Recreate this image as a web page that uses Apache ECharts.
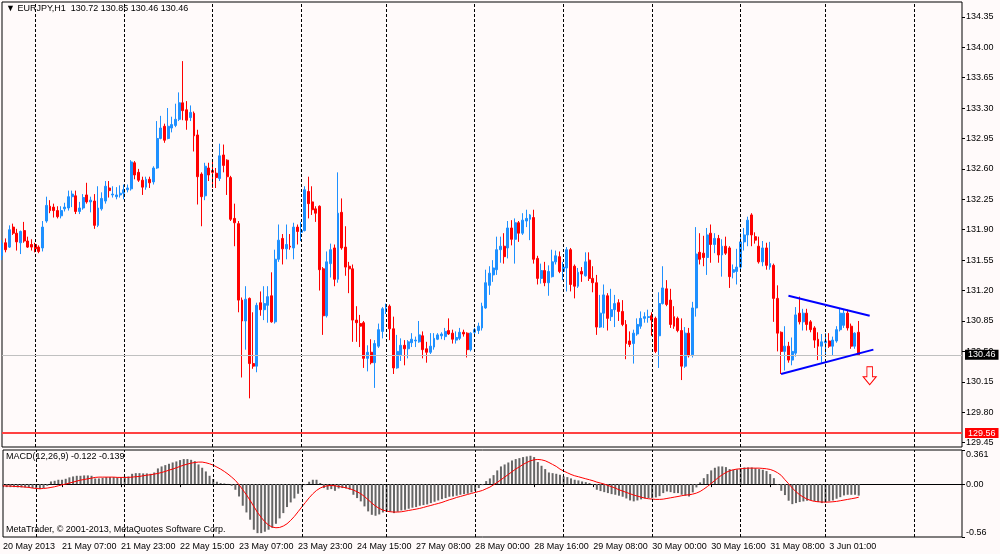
<!DOCTYPE html>
<html><head><meta charset="utf-8">
<script src="https://cdn.jsdelivr.net/npm/echarts@6/dist/echarts.min.js"></script>
<style>html,body{margin:0;padding:0;background:#FFFAFA}#c{width:1000px;height:554px}</style>
</head><body><div id="c"></div>
<script>
const symbolName = 'EURJPY,H1';
const open = [
131.60,131.75,131.70,131.93,131.86,131.75,131.89,131.77,131.73,131.73,
131.70,131.69,132.00,132.17,132.16,132.12,132.06,132.14,132.15,132.28,
132.29,132.11,132.15,132.30,132.22,132.23,131.95,132.14,132.23,132.38,
132.30,132.28,132.30,132.32,132.36,132.37,132.67,132.56,132.47,132.39,
132.48,132.45,132.61,132.95,133.09,132.95,133.07,133.10,133.17,133.36,
133.28,133.19,133.24,132.99,132.54,132.29,132.61,132.58,132.55,132.49,
132.76,132.70,132.50,132.03,131.97,131.09,130.85,131.11,130.36,130.33,
131.06,130.98,131.03,131.14,130.84,131.56,131.80,131.68,131.71,131.69,
131.93,131.87,131.89,132.34,132.22,132.14,132.17,131.45,130.91,131.51,
131.69,131.33,132.10,131.70,131.48,131.45,130.86,130.82,130.83,130.42,
130.49,130.37,130.56,130.73,130.96,131.02,130.76,130.31,130.46,130.57,
130.53,130.60,130.62,130.61,130.68,130.53,130.49,130.55,130.64,130.68,
130.67,130.74,130.71,130.63,130.65,130.72,130.71,130.52,130.72,130.74,
130.77,131.00,131.26,131.38,131.44,131.67,131.71,131.69,131.92,131.79,
131.98,131.86,132.00,132.02,132.04,131.57,131.34,131.43,131.29,131.36,
131.53,131.59,131.42,131.46,131.67,131.48,131.25,131.42,131.37,131.55,
131.34,131.29,130.78,130.94,131.14,130.90,130.98,131.06,130.96,130.81,
130.62,130.59,130.70,130.79,130.88,130.89,130.91,130.88,130.68,131.05,
131.22,131.09,130.90,130.88,130.74,130.33,130.71,130.46,131.00,131.64,
131.63,131.58,131.86,131.73,131.80,131.61,131.71,131.69,131.41,131.42,
131.47,131.76,131.84,132.07,131.82,131.71,131.53,131.69,131.47,131.49,
131.11,130.72,130.50,130.56,130.40,130.48,130.94,130.84,130.94,130.84,
130.77,130.64,130.56,130.60,130.62,130.56,130.62,130.75,130.80,130.94,
130.79,130.56,130.72];
const high = [
131.78,131.80,131.95,131.97,131.91,131.89,131.99,131.82,131.79,131.75,
131.72,132.00,132.28,132.24,132.20,132.17,132.17,132.21,132.35,132.35,
132.35,132.22,132.31,132.44,132.28,132.31,132.40,132.33,132.46,132.46,
132.40,132.39,132.41,132.42,132.42,132.70,132.69,132.60,132.51,132.51,
132.51,132.63,133.15,133.21,133.12,133.30,133.20,133.35,133.48,133.84,
133.38,133.33,133.26,133.05,132.56,132.67,132.67,132.70,132.61,132.89,
132.88,132.71,132.52,132.20,132.00,131.12,131.25,131.12,130.95,131.06,
131.19,131.25,131.25,131.41,131.67,131.96,131.85,131.96,131.85,131.98,
131.96,131.99,132.40,132.51,132.40,132.17,132.18,131.47,131.65,131.74,
131.73,132.56,132.26,131.94,131.53,131.50,131.02,130.92,130.85,130.57,
130.64,130.63,130.82,131.01,131.05,131.04,130.90,130.69,130.65,130.63,
130.63,130.71,130.67,130.85,130.73,130.61,130.71,130.71,130.71,130.72,
130.77,130.88,130.75,130.73,130.77,130.75,130.72,130.72,130.77,130.83,
131.06,131.44,131.48,131.55,131.82,131.82,131.86,132.00,132.01,132.03,
132.00,132.09,132.13,132.08,132.13,131.60,131.51,131.53,131.49,131.67,
131.66,131.65,131.53,131.70,131.69,131.50,131.46,131.47,131.64,131.64,
131.48,131.38,131.15,131.27,131.17,131.22,131.15,131.10,131.09,130.86,
130.73,130.75,130.88,130.96,130.95,130.98,130.95,130.90,131.18,131.48,
131.32,131.22,131.02,130.90,130.88,130.78,130.77,131.07,131.93,131.86,
131.83,131.92,131.96,131.86,131.84,131.79,131.82,131.71,131.50,131.68,
131.86,131.92,132.05,132.09,131.87,131.82,131.77,131.75,131.76,131.51,
131.26,130.73,130.79,130.61,130.66,131.01,131.13,130.99,130.99,130.86,
130.79,130.72,130.70,130.71,130.71,130.67,130.79,131.00,130.98,130.98,
130.82,130.72,130.85];
const low = [
131.55,131.64,131.69,131.84,131.66,131.62,131.75,131.69,131.66,131.64,
131.63,131.65,131.98,132.09,132.04,132.03,132.03,132.11,132.12,132.16,
132.08,132.08,132.13,132.20,132.10,131.91,131.93,132.12,132.20,132.27,
132.27,132.25,132.27,132.25,132.33,132.35,132.48,132.45,132.30,132.36,
132.38,132.42,132.60,132.94,132.90,132.94,133.02,133.08,133.15,133.16,
133.05,133.15,132.80,132.19,131.94,132.24,132.46,132.38,132.38,132.46,
132.56,132.30,132.00,131.71,130.95,130.20,130.52,129.96,130.30,130.26,
130.91,130.86,130.83,130.83,130.82,131.53,131.50,131.56,131.67,131.56,
131.73,131.77,131.88,132.03,132.07,131.99,131.20,130.69,130.89,131.35,
131.25,131.29,131.67,131.37,131.17,130.61,130.61,130.55,130.31,130.27,
130.35,130.08,130.54,130.65,130.93,130.63,130.24,130.30,130.39,130.34,
130.42,130.55,130.55,130.60,130.42,130.37,130.47,130.52,130.63,130.64,
130.63,130.69,130.59,130.59,130.63,130.67,130.43,130.50,130.67,130.70,
130.74,130.99,131.15,131.30,131.38,131.52,131.51,131.57,131.72,131.51,
131.76,131.84,131.93,131.78,131.51,131.27,131.28,131.25,131.14,131.35,
131.50,131.40,131.32,131.19,131.19,131.11,131.23,131.30,131.36,131.31,
131.18,130.69,130.77,130.77,130.74,130.85,130.78,130.85,130.79,130.41,
130.55,130.36,130.68,130.76,130.83,130.83,130.68,130.48,130.31,131.04,
131.02,130.77,130.76,130.72,130.17,130.31,130.43,130.43,130.90,131.50,
131.48,131.38,131.52,131.63,131.52,131.36,131.61,131.23,131.34,131.27,
131.44,131.66,131.71,131.71,131.74,131.51,131.48,131.44,131.44,130.84,
130.50,130.24,130.28,130.37,130.34,130.44,130.81,130.74,130.74,130.72,
130.54,130.40,130.37,130.45,130.54,130.45,130.60,130.73,130.77,130.74,
130.53,130.53,130.46];
const close = [
131.74,131.67,131.90,131.86,131.76,131.88,131.77,131.70,131.70,131.68,
131.65,131.93,132.18,132.12,132.12,132.05,132.12,132.16,132.28,132.31,
132.11,132.15,132.27,132.22,132.24,131.95,132.15,132.26,132.40,132.35,
132.31,132.30,132.32,132.36,132.38,132.68,132.53,132.47,132.39,132.48,
132.44,132.61,132.95,133.07,132.93,133.09,133.11,133.17,133.36,133.27,
133.16,133.25,132.98,132.51,132.28,132.63,132.53,132.56,132.50,132.75,
132.64,132.51,132.02,131.98,131.09,130.85,131.10,130.36,130.33,131.03,
130.98,131.05,131.13,130.84,131.56,131.78,131.68,131.73,131.70,131.93,
131.88,131.89,132.36,132.20,132.13,132.09,131.44,130.91,131.53,131.67,
131.33,132.09,131.69,131.47,131.45,130.86,130.83,130.79,130.42,130.49,
130.37,130.59,130.75,130.99,131.00,130.76,130.31,130.50,130.57,130.53,
130.61,130.64,130.63,130.69,130.52,130.49,130.56,130.65,130.69,130.70,
130.73,130.70,130.64,130.66,130.72,130.70,130.52,130.71,130.75,130.79,
131.02,131.29,131.40,131.46,131.67,131.71,131.59,131.92,131.79,131.98,
131.86,132.01,132.03,132.07,131.56,131.34,131.43,131.29,131.42,131.53,
131.60,131.42,131.47,131.67,131.27,131.25,131.41,131.39,131.53,131.34,
131.29,130.78,130.94,131.15,130.88,130.98,131.05,130.96,130.81,130.59,
130.58,130.71,130.81,130.88,130.90,130.90,130.86,130.50,131.05,131.23,
131.04,130.81,130.79,130.74,130.33,130.71,130.45,131.00,131.62,131.56,
131.58,131.84,131.73,131.80,131.61,131.71,131.63,131.36,131.44,131.47,
131.76,131.84,132.01,131.84,131.78,131.53,131.69,131.49,131.51,131.11,
130.71,130.50,130.56,130.40,130.50,130.92,130.84,130.94,130.81,130.75,
130.63,130.56,130.61,130.62,130.56,130.63,130.75,130.94,130.94,130.77,
130.56,130.71,130.46];
const macdMain = [
-0.025,-0.032,-0.032,-0.032,-0.035,-0.035,-0.035,-0.039,-0.042,-0.046,
-0.053,-0.042,-0.018,0.028,0.035,0.046,0.046,0.056,0.071,0.081,
0.088,0.088,0.092,0.092,0.088,0.060,0.060,0.067,0.074,0.074,
0.074,0.071,0.071,0.078,0.081,0.109,0.116,0.116,0.113,0.113,
0.109,0.123,0.166,0.187,0.201,0.215,0.229,0.240,0.254,0.265,
0.265,0.257,0.243,0.208,0.173,0.134,0.088,0.053,0.025,0.011,
0.007,0.002,-0.018,-0.060,-0.131,-0.229,-0.300,-0.377,-0.483,-0.519,
-0.519,-0.504,-0.483,-0.462,-0.420,-0.363,-0.307,-0.243,-0.194,-0.152,
-0.102,-0.060,-0.011,0.025,0.046,0.046,0.011,-0.042,-0.060,-0.053,
-0.071,-0.046,-0.042,-0.046,-0.060,-0.113,-0.148,-0.183,-0.236,-0.289,
-0.325,-0.335,-0.321,-0.300,-0.289,-0.293,-0.307,-0.293,-0.279,-0.272,
-0.261,-0.250,-0.243,-0.229,-0.222,-0.215,-0.201,-0.187,-0.173,-0.159,
-0.148,-0.134,-0.131,-0.123,-0.113,-0.106,-0.102,-0.088,-0.071,-0.042,
-0.011,0.032,0.060,0.095,0.145,0.187,0.208,0.229,0.250,0.265,
0.275,0.286,0.293,0.300,0.286,0.233,0.194,0.159,0.123,0.116,
0.109,0.099,0.081,0.074,0.060,0.046,0.039,0.028,0.021,0.011,
-0.007,-0.060,-0.074,-0.085,-0.095,-0.106,-0.113,-0.123,-0.134,-0.152,
-0.173,-0.183,-0.173,-0.162,-0.152,-0.148,-0.148,-0.141,-0.127,-0.095,
-0.078,-0.085,-0.095,-0.095,-0.113,-0.123,-0.131,-0.088,-0.035,0.018,
0.063,0.106,0.145,0.173,0.187,0.187,0.180,0.159,0.152,0.155,
0.166,0.176,0.176,0.176,0.169,0.159,0.152,0.138,0.106,0.063,
-0.007,-0.071,-0.116,-0.176,-0.212,-0.201,-0.190,-0.183,-0.176,-0.173,
-0.180,-0.190,-0.201,-0.194,-0.183,-0.173,-0.155,-0.138,-0.120,-0.113,
-0.113,-0.113,-0.122];
const macdSignal = [
-0.018,-0.021,-0.021,-0.025,-0.025,-0.028,-0.032,-0.035,-0.042,-0.046,
-0.049,-0.046,-0.042,-0.035,-0.028,-0.018,-0.007,0.000,0.011,0.021,
0.032,0.042,0.049,0.056,0.063,0.071,0.074,0.074,0.074,0.074,
0.074,0.071,0.071,0.071,0.071,0.074,0.078,0.081,0.088,0.095,
0.099,0.106,0.113,0.123,0.134,0.148,0.159,0.173,0.187,0.201,
0.212,0.222,0.229,0.233,0.233,0.226,0.215,0.201,0.180,0.159,
0.134,0.106,0.074,0.039,-0.007,-0.060,-0.113,-0.173,-0.236,-0.300,
-0.353,-0.399,-0.434,-0.455,-0.462,-0.459,-0.444,-0.420,-0.384,-0.342,
-0.293,-0.243,-0.194,-0.145,-0.102,-0.067,-0.042,-0.025,-0.018,-0.014,
-0.018,-0.025,-0.032,-0.039,-0.049,-0.063,-0.081,-0.102,-0.131,-0.166,
-0.201,-0.233,-0.257,-0.275,-0.286,-0.293,-0.296,-0.296,-0.293,-0.286,
-0.279,-0.272,-0.265,-0.257,-0.247,-0.236,-0.226,-0.215,-0.205,-0.194,
-0.180,-0.166,-0.155,-0.141,-0.131,-0.120,-0.109,-0.099,-0.088,-0.078,
-0.067,-0.049,-0.032,-0.007,0.018,0.046,0.074,0.102,0.131,0.159,
0.183,0.208,0.229,0.247,0.257,0.261,0.257,0.247,0.229,0.208,
0.187,0.159,0.138,0.120,0.102,0.088,0.078,0.067,0.056,0.046,
0.035,0.021,0.011,0.000,-0.014,-0.028,-0.042,-0.060,-0.074,-0.088,
-0.102,-0.116,-0.127,-0.138,-0.148,-0.155,-0.159,-0.162,-0.162,-0.159,
-0.152,-0.145,-0.138,-0.131,-0.123,-0.116,-0.113,-0.106,-0.095,-0.078,
-0.053,-0.025,0.007,0.039,0.071,0.099,0.123,0.141,0.152,0.159,
0.162,0.166,0.169,0.169,0.169,0.169,0.166,0.162,0.155,0.141,
0.120,0.092,0.046,0.004,-0.042,-0.081,-0.113,-0.138,-0.159,-0.173,
-0.183,-0.187,-0.190,-0.190,-0.190,-0.187,-0.183,-0.176,-0.169,-0.162,
-0.155,-0.148,-0.139];
const timeLabels = ['20 May 2013','21 May 07:00','21 May 23:00','22 May 15:00','23 May 07:00','23 May 23:00','24 May 15:00','27 May 08:00','28 May 00:00','28 May 16:00','29 May 08:00','30 May 00:00','30 May 16:00','31 May 08:00','3 Jun 01:00'];
const labelStep = 16;
const daySeparators = [9,33,57,81,104,128,152,176,200,223,247];
const priceTicks = [129.45,129.80,130.15,130.50,130.85,131.20,131.55,131.90,132.25,132.60,132.95,133.30,133.65,134.00,134.35];
const macdTicks = [-0.56,0,0.361];
const bidPrice = 130.46;
const alertPrice = 129.56;
const trendLines = [[[213,131.14],[235,130.91]],[[211,130.24],[236,130.52]]];
const signalArrow = [234.5,130.22];
const totalSlots = 261;

const FONT = '"Liberation Sans", Arial, "DejaVu Sans", sans-serif';
const cats = Array.from({length: totalSlots}, (_, i) => String(i));
const candles = open.map((o, i) => [o, close[i], low[i], high[i]]);
const last = open.length - 1;
const isLabel = i => i % labelStep === 0 && (i / labelStep) < timeLabels.length;
const sepData = daySeparators.map(x => ({xAxis: x}));
const sepLine = {symbol: ['none','none'], silent: true, animation: false,
  lineStyle: {type: [3,2], color: '#000', width: 1}, label: {show: false}};
const txt = (s, top) => ({text: s, left: 6, top: top, padding: 0,
  textStyle: {fontSize: 9, fontWeight: 'normal', color: '#000', fontFamily: FONT}});

const chart = echarts.init(document.getElementById('c'));
chart.setOption({
  animation: false,
  backgroundColor: '#FFFAFA',
  textStyle: {fontFamily: FONT},
  title: [
    txt('\u25BC ' + symbolName + '  ' + [open[last], high[last], low[last], close[last]].map(v => v.toFixed(2)).join(' '), 4),
    txt('MACD(12,26,9) ' + macdMain[last].toFixed(3) + ' ' + macdSignal[last].toFixed(3), 452),
    txt('MetaTrader, \u00A9 2001-2013, MetaQuotes Software Corp.', 525)
  ],
  grid: [
    {left: 2, top: 2, width: 960, height: 445, show: true, borderColor: '#000', borderWidth: 1, backgroundColor: 'transparent'},
    {left: 2, top: 450, width: 960, height: 87, show: true, borderColor: '#000', borderWidth: 1, backgroundColor: 'transparent'}
  ],
  xAxis: [
    {type: 'category', gridIndex: 0, data: cats, boundaryGap: false,
     axisLine: {show: false}, axisTick: {show: false}, axisLabel: {show: false}, splitLine: {show: false}},
    {type: 'category', gridIndex: 1, data: cats, boundaryGap: false,
     axisLine: {show: true, lineStyle: {color: '#000'}},
     axisTick: {show: true, interval: i => isLabel(i), length: 3, lineStyle: {color: '#000'}},
     axisLabel: {show: true, interval: i => isLabel(i), formatter: (v, i) => timeLabels[i / labelStep],
       align: 'left', color: '#000', fontSize: 9, margin: 5, fontFamily: FONT},
     splitLine: {show: false}}
  ],
  yAxis: [
    {type: 'value', gridIndex: 0, position: 'right', min: 129.40, max: 134.52,
     axisLine: {show: false},
     axisTick: {show: true, customValues: priceTicks, length: 3, lineStyle: {color: '#000'}},
     axisLabel: {customValues: priceTicks, formatter: v => v.toFixed(2), color: '#000', fontSize: 9, margin: 4, fontFamily: FONT},
     splitLine: {show: false}},
    {type: 'value', gridIndex: 1, position: 'right', min: -0.56, max: 0.361,
     axisLine: {show: false},
     axisTick: {show: true, customValues: macdTicks, length: 3, lineStyle: {color: '#000'}},
     axisLabel: {customValues: macdTicks, formatter: v => v === 0 ? '0.00' : String(v), color: '#000', fontSize: 9, margin: 4,
       fontFamily: FONT, verticalAlignMaxLabel: 'top', verticalAlignMinLabel: 'bottom'},
     splitLine: {show: false}}
  ],
  series: [
    {type: 'candlestick', xAxisIndex: 0, yAxisIndex: 0, data: candles, barWidth: 2.4,
     itemStyle: {color: '#1E90FF', color0: '#FF0000', borderColor: '#1E90FF', borderColor0: '#FF0000', borderWidth: 1},
     markLine: {symbol: ['none','none'], silent: true, animation: false, label: {show: false},
       data: [
         ...daySeparators.map(x => ({xAxis: x, lineStyle: {type: [3,2], color: '#000', width: 1}})),
         {yAxis: bidPrice, lineStyle: {type: 'solid', color: '#C0C0C0', width: 1},
          label: {show: true, position: 'end', distance: 3, formatter: bidPrice.toFixed(2), color: '#fff',
            backgroundColor: '#000', padding: [1, 3, 0, 3], fontSize: 9, fontFamily: FONT}},
         {yAxis: alertPrice, lineStyle: {type: 'solid', color: '#FF4040', width: 2, opacity: 1},
          label: {show: true, position: 'end', distance: 3, formatter: alertPrice.toFixed(2), color: '#fff',
            backgroundColor: '#FF0000', padding: [1, 3, 0, 3], fontSize: 9, fontFamily: FONT}},
         ...trendLines.map(t => [{coord: t[0], lineStyle: {type: 'solid', color: '#0000FF', width: 2}}, {coord: t[1]}])
       ]},
     markPoint: {silent: true, animation: false, data: [{coord: signalArrow,
       symbol: 'path://M4,0 L10,0 L10,10 L14,10 L7,18 L0,10 L4,10 Z', symbolSize: [13, 18],
       itemStyle: {color: '#FFFAFA', borderColor: '#FF0000', borderWidth: 1}, label: {show: false}}]}
    },
    {type: 'bar', xAxisIndex: 1, yAxisIndex: 1, data: macdMain, barWidth: 2,
     itemStyle: {color: '#666666'}, markLine: Object.assign({data: sepData}, sepLine)},
    {type: 'line', xAxisIndex: 1, yAxisIndex: 1, data: macdSignal, symbol: 'none',
     lineStyle: {color: '#FF0000', width: 1}}
  ]
});
</script></body></html>
